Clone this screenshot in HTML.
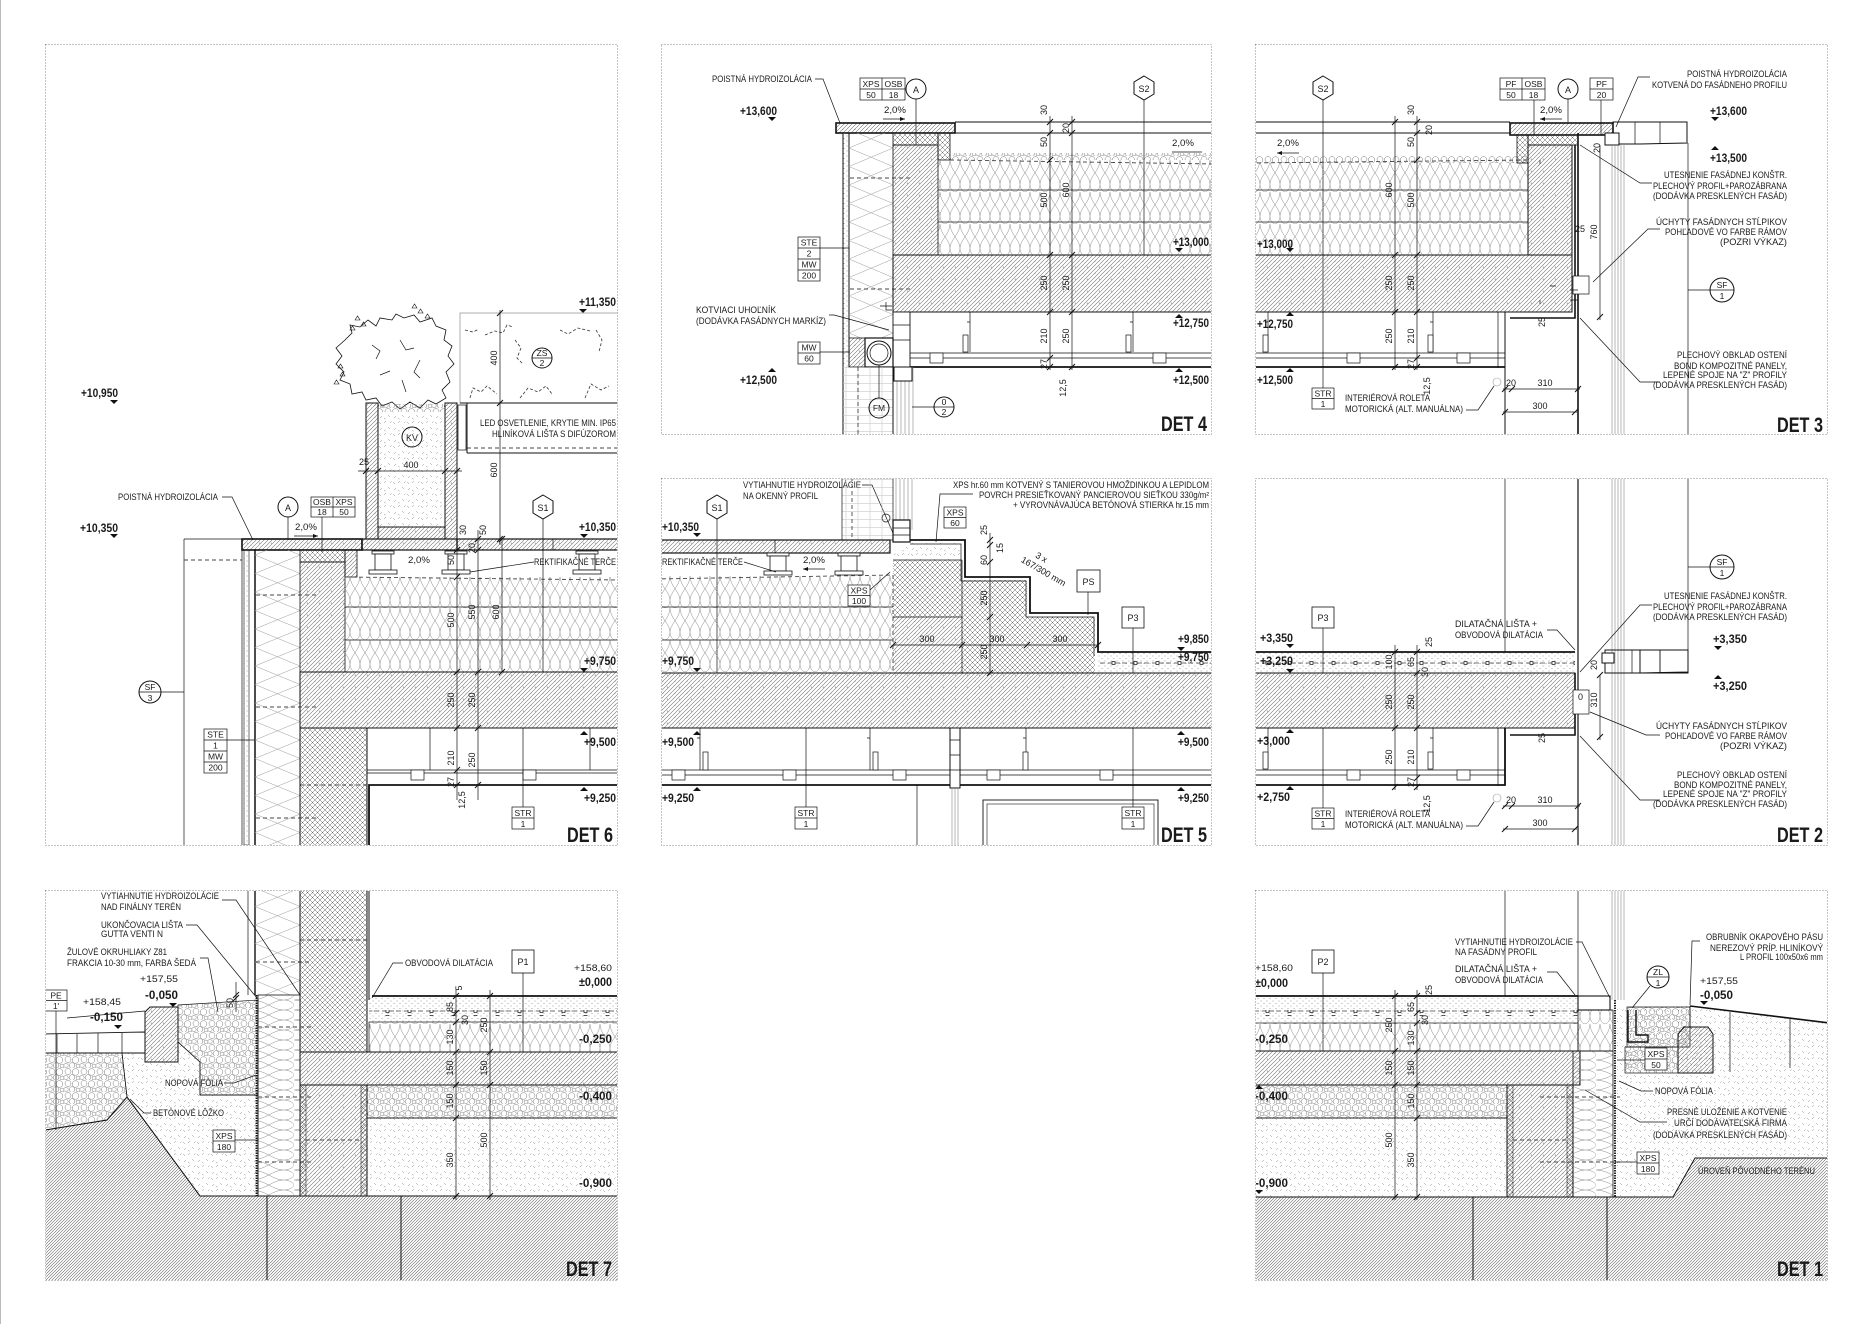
<!DOCTYPE html>
<html><head><meta charset="utf-8"><style>
html,body{margin:0;padding:0;background:#fff}
svg{display:block}
text{font-family:"Liberation Sans",Arial,sans-serif;fill:#1a1a1a}
.s{font-size:9px}
.t{font-size:8.5px}
.b{font-size:11.5px;font-weight:bold}
.n{font-size:9px}
.D{font-size:21px;font-weight:bold}
.fr{fill:none;stroke:#8a8a8a;stroke-width:1;stroke-dasharray:1 2}
.k{fill:none;stroke:#111;stroke-width:1}
.k2{fill:none;stroke:#111;stroke-width:1.8}
.kt{fill:none;stroke:#111;stroke-width:.7}
.g{fill:none;stroke:#888;stroke-width:.6}
.dsh{fill:none;stroke:#444;stroke-width:.9;stroke-dasharray:4 3}
.m{fill:#111}
</style></head><body>
<svg width="1872" height="1324" viewBox="0 0 1872 1324" xmlns="http://www.w3.org/2000/svg">
<defs>
<clipPath id="c6"><rect x="46" y="45" width="571" height="800"/></clipPath>
<clipPath id="c4"><rect x="662" y="45" width="549" height="389"/></clipPath>
<clipPath id="c3"><rect x="1256" y="45" width="571" height="389"/></clipPath>
<clipPath id="c5"><rect x="662" y="479" width="549" height="366"/></clipPath>
<clipPath id="c2"><rect x="1256" y="479" width="571" height="366"/></clipPath>
<clipPath id="c7"><rect x="46" y="891" width="571" height="389"/></clipPath>
<clipPath id="c1"><rect x="1256" y="891" width="571" height="389"/></clipPath>
<pattern id="con" width="12" height="12" patternUnits="userSpaceOnUse"><path d="M0,4L4,0M0,8L8,0M0,12L12,0M4,12L12,4M8,12L12,8M-1,1L1,-1M11,13L13,11" stroke="#777" stroke-width=".55"/><path d="M2,9.5l1.6,-.6M7,2.5l.6,1.6" stroke="#666" stroke-width=".5"/></pattern>
<pattern id="gh" width="9" height="9" patternUnits="userSpaceOnUse"><path d="M0,3L3,0M0,6L6,0M0,9L9,0M3,9L9,3M6,9L9,6" stroke="#666" stroke-width=".55"/></pattern>
<pattern id="sd" width="14" height="12" patternUnits="userSpaceOnUse"><path d="M1,2l2,2M8,1l-2,2M10,7l2,2M4,8l-2,2M6,10l1.6,1.2M12,3l1.5,-1.5" stroke="#888" stroke-width=".5"/></pattern>
<pattern id="x" width="5" height="5" patternUnits="userSpaceOnUse"><path d="M0,5L5,0M0,0L5,5" stroke="#666" stroke-width=".5"/></pattern>
<pattern id="ins" width="10" height="32" patternUnits="userSpaceOnUse"><path d="M0,0C0,10 10,16 10,24C10,30 6,32 5,32C4,32 0,30 0,24C0,16 10,10 10,0" fill="none" stroke="#888" stroke-width=".5"/></pattern>
<pattern id="insv" width="42" height="10" patternUnits="userSpaceOnUse"><path d="M0,0C13,0 21,10 31,10C39,10 42,6 42,5C42,4 39,0 31,0C21,0 13,10 0,10" fill="none" stroke="#888" stroke-width=".5"/></pattern>
<pattern id="gr" width="16" height="12" patternUnits="userSpaceOnUse"><g fill="none" stroke="#777" stroke-width=".5"><circle cx="4" cy="3.5" r="3"/><circle cx="11.5" cy="4" r="3.3"/><circle cx="2" cy="9.5" r="2.2"/><circle cx="8" cy="9.5" r="2.8"/><circle cx="14" cy="10" r="2"/></g></pattern>
<pattern id="sc" width="6" height="5" patternUnits="userSpaceOnUse"><circle cx="1" cy="1" r=".5" fill="#888"/><circle cx="4" cy="3.5" r=".5" fill="#888"/></pattern>
<pattern id="mw1" width="45" height="37" patternUnits="userSpaceOnUse" patternTransform="translate(255,0)"><path d="M0,0L45,18.5L0,37M45,0L0,18.5L45,37" fill="none" stroke="#999" stroke-width=".5"/></pattern>
<pattern id="mw2" width="44" height="37" patternUnits="userSpaceOnUse" patternTransform="translate(849,0)"><path d="M0,0L44,18.5L0,37M44,0L0,18.5L44,37" fill="none" stroke="#999" stroke-width=".5"/></pattern>
<pattern id="reb" width="22" height="6" patternUnits="userSpaceOnUse"><path d="M0,3h5M8,3h4M15,3h5" stroke="#444" stroke-width=".7"/><rect x="12" y="1.5" width="3" height="3" fill="#fff" stroke="#111" stroke-width=".7"/></pattern>
<pattern id="brk" width="12" height="8" patternUnits="userSpaceOnUse"><path d="M0,7.5h12M6,0v7.5" stroke="#bbb" stroke-width=".5"/></pattern>
</defs>
<rect width="1872" height="1324" fill="#fff"/>
<line x1="0.5" y1="0" x2="0.5" y2="1324" stroke="#bbb"/>

<!-- FRAMES -->
<rect class="fr" x="45.5" y="44.5" width="572" height="801"/>
<rect class="fr" x="661.5" y="44.5" width="550" height="390"/>
<rect class="fr" x="1255.5" y="44.5" width="572" height="390"/>
<rect class="fr" x="661.5" y="478.5" width="550" height="367"/>
<rect class="fr" x="1255.5" y="478.5" width="572" height="367"/>
<rect class="fr" x="45.5" y="890.5" width="572" height="390"/>
<rect class="fr" x="1255.5" y="890.5" width="572" height="390"/>

<!-- ================= DET 6 ================= -->
<g clip-path="url(#c6)">
<text class="b" x="81" y="397" textLength="37" lengthAdjust="spacingAndGlyphs">+10,950</text>
<path class="m" d="M110,400h8l-4,4z"/>
<text class="b" x="579" y="306" textLength="37" lengthAdjust="spacingAndGlyphs">+11,350</text>
<path class="m" d="M579,309h8l-4,4z"/>
<!-- tree -->
<path d="M345,340L352,333L350,325L360,327L368,320L376,326L380,318L392,320L396,314L404,318L414,315L420,322L432,318L436,326L446,330L444,340L452,346L448,356L454,364L446,372L450,382L442,390L446,398L436,404L428,400L420,408L410,402L400,409L392,402L382,406L376,398L366,400L362,392L352,394L350,384L340,380L344,372L336,364L342,356L336,348Z" fill="none" stroke="#111" stroke-width=".8"/>
<path d="M372,345l8,6l-4,8M400,340l6,10l8,-2M420,360l-6,12l6,6M380,375l10,-4M402,380l4,12" fill="none" stroke="#111" stroke-width=".7"/>
<path d="M355,320l2.5,-4l2.5,4zM361,326l2.5,-4l2.5,4zM350,330l2.5,-4l2.5,4zM418,313l2.5,-4l2.5,4zM425,318l2.5,-4l2.5,4zM412,308l2.5,-4l2.5,4zM338,368l2.5,-4l2.5,4zM340,376l2.5,-4l2.5,4zM334,384l2.5,-4l2.5,4z" fill="none" stroke="#111" stroke-width=".6"/>
<!-- light box -->
<rect x="460" y="313" width="170" height="90" fill="none" stroke="#999" stroke-width=".8"/>
<path d="M465,330l8,2l6,-3M485,335l10,-4l8,2l4,-8l6,2M470,398l3,-10l8,4l6,-6l10,8M520,398l8,-10l10,4l8,-6l6,8M560,330l8,4l10,-6l12,3M585,398l6,-14l10,6l8,-4M515,340l6,8l-4,10l6,6M596,330l6,10l-3,12" fill="none" stroke="#333" stroke-width=".8" stroke-dasharray="3 2"/>
<circle cx="542" cy="358" r="10" class="k"/><line x1="532" y1="358" x2="552" y2="358" class="kt"/>
<text class="t" x="542" y="356" text-anchor="middle">ZS</text><text class="t" x="542" y="366" text-anchor="middle">2</text>
<line x1="460" y1="403" x2="617" y2="403" class="k"/>
<line x1="467" y1="453" x2="617" y2="453" class="k"/>
<line x1="467" y1="448" x2="617" y2="448" class="dsh"/>
<line x1="467" y1="403" x2="467" y2="453" class="k"/>
<rect x="458" y="405" width="8" height="45" fill="none" stroke="#111" stroke-width=".7"/>
<text class="s" x="616" y="426" text-anchor="end" textLength="136" lengthAdjust="spacingAndGlyphs">LED OSVETLENIE, KRYTIE MIN. IP65</text>
<text class="s" x="616" y="437" text-anchor="end" textLength="124" lengthAdjust="spacingAndGlyphs">HLINÍKOVÁ LIŠTA S DIFÚZOROM</text>
<!-- dim 400/600 -->
<line x1="500" y1="310" x2="500" y2="545" class="kt"/>
<path class="k" d="M497,316l6,-6M497,406l6,-6M497,542l6,-6"/>
<text class="n" transform="translate(497,358) rotate(-90)" text-anchor="middle">400</text>
<text class="n" transform="translate(497,470) rotate(-90)" text-anchor="middle">600</text>
<!-- planter -->
<rect x="366" y="403" width="12" height="136" fill="url(#con)" stroke="#111"/>
<rect x="445" y="403" width="12" height="136" fill="url(#con)" stroke="#111"/>
<rect x="378" y="527" width="67" height="12" fill="url(#con)" stroke="#111"/>
<rect x="378" y="412" width="67" height="115" fill="url(#sd)"/>
<rect x="378" y="404" width="67" height="8" fill="url(#gr)"/>
<circle cx="412" cy="437" r="10" class="k"/><text class="s" x="412" y="441" text-anchor="middle">KV</text>
<line x1="358" y1="471" x2="462" y2="471" class="kt"/>
<path class="k" d="M363,474l6,-6M375,474l6,-6M442,474l6,-6M454,474l6,-6"/>
<text class="n" x="411" y="468" text-anchor="middle">400</text>
<text class="n" x="364" y="465" text-anchor="middle">25</text>
<!-- left -->
<text class="s" x="118" y="500" textLength="100" lengthAdjust="spacingAndGlyphs">POISTNÁ HYDROIZOLÁCIA</text>
<path class="kt" d="M222,497h10l21,43"/>
<text class="b" x="80" y="532" textLength="38" lengthAdjust="spacingAndGlyphs">+10,350</text>
<path class="m" d="M110,534h8l-4,4z"/>
<line x1="184" y1="539" x2="242" y2="539" class="kt"/>
<line x1="184" y1="539" x2="184" y2="845" class="kt"/>
<line x1="184" y1="560" x2="242" y2="560" class="dsh"/>
<circle cx="150" cy="692" r="11" class="k"/><line x1="139" y1="692" x2="161" y2="692" class="kt"/>
<text class="t" x="150" y="690" text-anchor="middle">SF</text><text class="t" x="150" y="701" text-anchor="middle">3</text>
<line x1="161" y1="692" x2="184" y2="692" class="kt"/>
<!-- STE table -->
<rect x="204" y="729" width="23" height="44" class="kt"/><path class="kt" d="M204,740h23M204,751h23M204,762h23"/>
<text class="t" x="215.5" y="737.5" text-anchor="middle">STE</text><text class="t" x="215.5" y="748.5" text-anchor="middle">1</text><text class="t" x="215.5" y="759.5" text-anchor="middle">MW</text><text class="t" x="215.5" y="770.5" text-anchor="middle">200</text>
<line x1="227" y1="740" x2="255" y2="740" class="kt"/>
<!-- wall -->
<rect x="242" y="539" width="120" height="11" fill="url(#con)" stroke="#111" stroke-width="1.6"/>
<line x1="242" y1="550" x2="242" y2="845" class="kt"/>
<rect x="244" y="550" width="5" height="295" fill="url(#sc)" stroke="#111" stroke-width=".6"/>
<line x1="255" y1="550" x2="255" y2="845" stroke="#111" stroke-width="1.5"/>
<rect x="255" y="550" width="45" height="295" fill="url(#mw1)"/>
<path class="dsh" d="M256,595h60M256,707h60M256,818h60"/>
<rect x="300" y="550" width="45" height="12" fill="url(#x)" stroke="#111" stroke-width=".8"/>
<rect x="300" y="562" width="45" height="110" fill="url(#con)" stroke="#111" stroke-width=".8"/>
<rect x="345" y="550" width="12" height="27" fill="url(#con)" stroke="#111" stroke-width=".8"/>
<rect x="345" y="577" width="275" height="95" fill="url(#ins)"/>
<path class="kt" d="M345,607H620M345,640H620"/>
<path class="dsh" d="M345,577L620,580M345,577V672"/>
<!-- deck -->
<rect x="457" y="539" width="165" height="11" fill="url(#con)" stroke="#111" stroke-width="1.2"/>
<rect x="362" y="539" width="95" height="11" fill="url(#con)" stroke="#111" stroke-width="1.2"/>
<g fill="#fff" stroke="#111" stroke-width=".8">
<rect x="372" y="551" width="22" height="3"/><rect x="375" y="554" width="16" height="16"/><rect x="369" y="570" width="28" height="4"/>
<rect x="445" y="551" width="22" height="3"/><rect x="448" y="554" width="16" height="16"/><rect x="442" y="570" width="28" height="4"/>
<rect x="576" y="551" width="22" height="3"/><rect x="579" y="554" width="16" height="16"/><rect x="573" y="570" width="28" height="4"/>
</g>
<line x1="553" y1="550" x2="553" y2="539" class="kt"/>
<text class="s" x="616" y="565" text-anchor="end" textLength="82" lengthAdjust="spacingAndGlyphs">REKTIFIKAČNÉ TERČE</text>
<path class="kt" d="M534,562L470,572"/>
<text class="s" x="408" y="563" textLength="22" lengthAdjust="spacingAndGlyphs">2,0%</text>
<text class="s" x="295" y="530" textLength="22" lengthAdjust="spacingAndGlyphs">2,0%</text>
<path class="kt" d="M294,536h24"/><path class="m" d="M318,536l-5,-2v4z"/>
<!-- A circle and table -->
<circle cx="288" cy="507" r="10" class="k"/><text class="s" x="288" y="511" text-anchor="middle">A</text>
<line x1="288" y1="517" x2="288" y2="539" class="kt"/>
<rect x="311" y="497" width="44" height="20" class="kt"/><path class="kt" d="M311,507h44M333,497v20"/>
<text class="t" x="322" y="505" text-anchor="middle">OSB</text><text class="t" x="344" y="505" text-anchor="middle">XPS</text>
<text class="t" x="322" y="515" text-anchor="middle">18</text><text class="t" x="344" y="515" text-anchor="middle">50</text>
<line x1="322" y1="517" x2="322" y2="552" class="kt"/>
<!-- S1 -->
<path class="k" d="M543,495L553,501V513L543,519L533,513V501Z"/><text class="s" x="543" y="511" text-anchor="middle">S1</text>
<line x1="543" y1="519" x2="543" y2="672" class="kt"/>
<!-- slab -->
<rect x="300" y="672" width="320" height="56" fill="url(#con)" stroke="#111"/>
<rect x="300" y="728" width="67" height="120" fill="url(#x)" stroke="#111"/>
<line x1="300" y1="785" x2="367" y2="785" class="dsh"/>
<path class="kt" d="M367,770H620M367,773H620"/>
<path class="k2" d="M369,845V785H620"/>
<g fill="#fff" stroke="#111" stroke-width=".7"><rect x="411" y="770" width="13" height="10"/><rect x="523" y="770" width="13" height="10"/></g>
<path class="kt" d="M430,728v42M590,728v42"/>
<!-- dims -->
<path class="kt" d="M457,530V800M478,530V800M502,539V672"/>
<path class="k" d="M454,553l6,-6M454,580l6,-6M454,675l6,-6M454,731l6,-6M454,773l6,-6M454,788l6,-6M475,542l6,-6M475,553l6,-6M475,675l6,-6M475,731l6,-6M475,788l6,-6M499,542l6,-6M499,675l6,-6"/>
<text class="n" transform="translate(466,530) rotate(-90)" text-anchor="middle">30</text>
<text class="n" transform="translate(486,530) rotate(-90)" text-anchor="middle">50</text>
<text class="n" transform="translate(454,560) rotate(-90)" text-anchor="middle">50</text>
<text class="n" transform="translate(475,548) rotate(-90)" text-anchor="middle">20</text>
<text class="n" transform="translate(454,620) rotate(-90)" text-anchor="middle">500</text>
<text class="n" transform="translate(475,612) rotate(-90)" text-anchor="middle">550</text>
<text class="n" transform="translate(499,612) rotate(-90)" text-anchor="middle">600</text>
<text class="n" transform="translate(454,700) rotate(-90)" text-anchor="middle">250</text>
<text class="n" transform="translate(475,700) rotate(-90)" text-anchor="middle">250</text>
<text class="n" transform="translate(454,758) rotate(-90)" text-anchor="middle">210</text>
<text class="n" transform="translate(475,760) rotate(-90)" text-anchor="middle">250</text>
<text class="n" transform="translate(454,782) rotate(-90)" text-anchor="middle">27</text>
<text class="n" transform="translate(465,800) rotate(-90)" text-anchor="middle">12,5</text>
<!-- levels -->
<text class="b" x="616" y="531" text-anchor="end" textLength="37" lengthAdjust="spacingAndGlyphs">+10,350</text>
<path class="m" d="M580,534h8l-4,4z"/>
<text class="b" x="616" y="665" text-anchor="end" textLength="32" lengthAdjust="spacingAndGlyphs">+9,750</text>
<path class="m" d="M580,668h8l-4,4z"/>
<path class="m" d="M580,735h8l-4,-4z"/>
<text class="b" x="616" y="746" text-anchor="end" textLength="32" lengthAdjust="spacingAndGlyphs">+9,500</text>
<path class="m" d="M580,791h8l-4,-4z"/>
<text class="b" x="616" y="802" text-anchor="end" textLength="32" lengthAdjust="spacingAndGlyphs">+9,250</text>
<line x1="523" y1="728" x2="523" y2="807" class="kt"/>
<rect x="512" y="807" width="22" height="22" class="kt"/><line x1="512" y1="818" x2="534" y2="818" class="kt"/>
<text class="t" x="523" y="816" text-anchor="middle">STR</text><text class="t" x="523" y="827" text-anchor="middle">1</text>
<text class="D" x="613" y="842" text-anchor="end" textLength="46" lengthAdjust="spacingAndGlyphs">DET 6</text>
</g>

<!-- ================= DET 4 ================= -->
<g clip-path="url(#c4)">
<text class="s" x="712" y="82" textLength="100" lengthAdjust="spacingAndGlyphs">POISTNÁ HYDROIZOLÁCIA</text>
<path class="kt" d="M815,79h8l17,44"/>
<rect x="860" y="78" width="45" height="22" class="kt"/><path class="kt" d="M860,89h45M882,78v22"/>
<text class="t" x="871" y="87" text-anchor="middle">XPS</text><text class="t" x="893.5" y="87" text-anchor="middle">OSB</text>
<text class="t" x="871" y="98" text-anchor="middle">50</text><text class="t" x="893.5" y="98" text-anchor="middle">18</text>
<circle cx="916" cy="89" r="10" class="k"/><text class="s" x="916" y="93" text-anchor="middle">A</text>
<line x1="916" y1="99" x2="916" y2="145" class="kt"/>
<text class="s" x="884" y="113" textLength="22" lengthAdjust="spacingAndGlyphs">2,0%</text>
<path class="kt" d="M883,119h22"/><path class="m" d="M905,119l-5,-2v4z"/>
<text class="b" x="740" y="115" textLength="37" lengthAdjust="spacingAndGlyphs">+13,600</text>
<path class="m" d="M768,117h8l-4,4z"/>
<rect x="836" y="123" width="119" height="10" fill="url(#con)" stroke="#111" stroke-width="1.6"/>
<path class="k" d="M955,122H1215M955,133H1215"/>
<!-- wall -->
<line x1="843" y1="133" x2="843" y2="434" class="k"/>
<rect x="843" y="133" width="6" height="234" fill="url(#sc)"/>
<line x1="849" y1="133" x2="849" y2="367" class="k"/>
<rect x="849" y="133" width="44" height="205" fill="url(#mw2)"/>
<path class="dsh" d="M850,178h60M850,289h60"/>
<rect x="893" y="133" width="45" height="12" fill="url(#x)" stroke="#111" stroke-width=".8"/>
<rect x="893" y="145" width="45" height="110" fill="url(#con)" stroke="#111" stroke-width=".8"/>
<rect x="938" y="133" width="12" height="27" fill="url(#x)" stroke="#111" stroke-width=".8"/>
<rect x="950" y="153" width="265" height="7" fill="url(#gr)"/>
<rect x="938" y="160" width="277" height="95" fill="url(#ins)"/>
<path class="kt" d="M938,190H1215M938,222H1215"/>
<path class="dsh" d="M950,160L1215,164M938,160V255"/>
<rect x="893" y="255" width="322" height="57" fill="url(#con)" stroke="#111"/>
<!-- ceiling -->
<path class="kt" d="M910,353H1215M910,358H1215"/>
<path class="k2" d="M893,367H1215"/>
<path class="kt" d="M970,312v40M967,322h3M1133,312v40M1130,322h3"/>
<g fill="#fff" stroke="#111" stroke-width=".7"><rect x="930" y="353" width="13" height="10"/><rect x="1153" y="353" width="13" height="10"/><rect x="963" y="335" width="5" height="17"/><rect x="1126" y="335" width="5" height="17"/></g>
<!-- window head -->
<rect x="893" y="312" width="17" height="55" fill="#fff" stroke="#111" stroke-width=".9"/>
<path class="kt" d="M893,325h17M893,340h17"/>
<rect x="849" y="338" width="16" height="29" fill="url(#con)" stroke="#111" stroke-width=".8"/>
<rect x="865" y="338" width="28" height="29" fill="#fff" stroke="#111" stroke-width="1.2"/>
<circle cx="879" cy="353" r="12" class="k"/><circle cx="879" cy="353" r="9" class="kt"/>
<path class="kt" d="M892,310l-6,0l0,-8M880,306h12"/>
<rect x="843" y="367" width="50" height="70" fill="url(#brk)"/>
<line x1="858" y1="367" x2="858" y2="434" class="dsh"/>
<line x1="893" y1="367" x2="893" y2="434" class="k"/>
<path class="g" d="M897,367V434M901,367V434M905,367V434M909,367V434M913,367V434"/>
<rect x="894" y="367" width="18" height="14" fill="#fff" stroke="#111"/>
<!-- tables -->
<rect x="798" y="237" width="22" height="44" class="kt"/><path class="kt" d="M798,248h22M798,259h22M798,270h22"/>
<text class="t" x="809" y="245.5" text-anchor="middle">STE</text><text class="t" x="809" y="256.5" text-anchor="middle">2</text><text class="t" x="809" y="267.5" text-anchor="middle">MW</text><text class="t" x="809" y="278.5" text-anchor="middle">200</text>
<line x1="820" y1="248" x2="849" y2="248" class="kt"/>
<text class="s" x="696" y="313" textLength="80" lengthAdjust="spacingAndGlyphs">KOTVIACI UHOĽNÍK</text>
<text class="s" x="696" y="324" textLength="130" lengthAdjust="spacingAndGlyphs">(DODÁVKA FASÁDNYCH MARKÍZ)</text>
<path class="kt" d="M829,315h5l55,15"/>
<rect x="798" y="342" width="22" height="22" class="kt"/><line x1="798" y1="353" x2="820" y2="353" class="kt"/>
<text class="t" x="809" y="350.5" text-anchor="middle">MW</text><text class="t" x="809" y="361.5" text-anchor="middle">60</text>
<line x1="820" y1="352" x2="850" y2="352" class="kt"/>
<path class="m" d="M768,372h8l-4,-4z"/>
<text class="b" x="740" y="384" textLength="37" lengthAdjust="spacingAndGlyphs">+12,500</text>
<line x1="879" y1="365" x2="879" y2="398" class="kt"/>
<circle cx="879" cy="408" r="10" class="k"/><text class="t" x="879" y="411" text-anchor="middle">FM</text>
<line x1="912" y1="407" x2="934" y2="407" class="kt"/>
<circle cx="944" cy="407" r="10" class="k"/><line x1="934" y1="407" x2="954" y2="407" class="kt"/>
<text class="t" x="944" y="405" text-anchor="middle">0</text><text class="t" x="944" y="415" text-anchor="middle">2</text>
<!-- dims -->
<path class="kt" d="M1050,116V370M1072,116V370"/>
<path class="k" d="M1047,125l6,-6M1047,136l6,-6M1047,163l6,-6M1047,258l6,-6M1047,315l6,-6M1047,361l6,-6M1047,370l6,-6M1069,125l6,-6M1069,136l6,-6M1069,258l6,-6M1069,315l6,-6M1069,370l6,-6"/>
<text class="n" transform="translate(1047,110) rotate(-90)" text-anchor="middle">30</text>
<text class="n" transform="translate(1047,142) rotate(-90)" text-anchor="middle">50</text>
<text class="n" transform="translate(1069,128) rotate(-90)" text-anchor="middle">20</text>
<text class="n" transform="translate(1047,200) rotate(-90)" text-anchor="middle">500</text>
<text class="n" transform="translate(1069,190) rotate(-90)" text-anchor="middle">600</text>
<text class="n" transform="translate(1047,283) rotate(-90)" text-anchor="middle">250</text>
<text class="n" transform="translate(1069,283) rotate(-90)" text-anchor="middle">250</text>
<text class="n" transform="translate(1047,336) rotate(-90)" text-anchor="middle">210</text>
<text class="n" transform="translate(1069,336) rotate(-90)" text-anchor="middle">250</text>
<text class="n" transform="translate(1047,364) rotate(-90)" text-anchor="middle">27</text>
<text class="n" transform="translate(1066,388) rotate(-90)" text-anchor="middle">12,5</text>
<path class="k" d="M1144,76L1154,82V94L1144,100L1134,94V82Z"/><text class="s" x="1144" y="92" text-anchor="middle">S2</text>
<line x1="1144" y1="100" x2="1144" y2="255" class="kt"/>
<text class="s" x="1172" y="146" textLength="22" lengthAdjust="spacingAndGlyphs">2,0%</text>
<path class="kt" d="M1172,152h30"/>
<text class="b" x="1209" y="246" text-anchor="end" textLength="36" lengthAdjust="spacingAndGlyphs">+13,000</text>
<path class="m" d="M1175,248h8l-4,4z"/>
<path class="m" d="M1175,318h8l-4,-4z"/>
<text class="b" x="1209" y="327" text-anchor="end" textLength="36" lengthAdjust="spacingAndGlyphs">+12,750</text>
<path class="m" d="M1175,372h8l-4,-4z"/>
<text class="b" x="1209" y="384" text-anchor="end" textLength="36" lengthAdjust="spacingAndGlyphs">+12,500</text>
<text class="D" x="1207" y="431" text-anchor="end" textLength="46" lengthAdjust="spacingAndGlyphs">DET 4</text>
</g>

<!-- ================= DET 3 ================= -->
<g clip-path="url(#c3)">
<path class="k" d="M1323,76L1333,82V94L1323,100L1313,94V82Z"/><text class="s" x="1323" y="92" text-anchor="middle">S2</text>
<line x1="1323" y1="100" x2="1323" y2="388" class="kt"/>
<rect x="1312" y="388" width="22" height="21" fill="#fff" stroke="#111" stroke-width=".7"/><line x1="1312" y1="398.5" x2="1334" y2="398.5" class="kt"/>
<text class="t" x="1323" y="396.5" text-anchor="middle">STR</text><text class="t" x="1323" y="407" text-anchor="middle">1</text>
<path class="k" d="M1250,122H1510M1250,133H1510"/>
<text class="s" x="1277" y="146" textLength="22" lengthAdjust="spacingAndGlyphs">2,0%</text>
<path class="kt" d="M1277,153h22"/><path class="m" d="M1277,153l5,-2v4z"/>
<rect x="1250" y="156" width="278" height="7" fill="url(#gr)"/>
<rect x="1250" y="163" width="278" height="92" fill="url(#ins)"/>
<path class="kt" d="M1250,190H1528M1250,222H1528"/>
<path class="dsh" d="M1250,163L1528,160M1528,160V255"/>
<text class="b" x="1257" y="248" textLength="36" lengthAdjust="spacingAndGlyphs">+13,000</text>
<path class="m" d="M1286,248h8l-4,4z"/>
<rect x="1250" y="255" width="322" height="57" fill="url(#con)" stroke="#111"/>
<rect x="1528" y="145" width="44" height="110" fill="url(#con)" stroke="#111"/>
<path class="kt" d="M1540,160v4M1540,300v4M1550,286h6"/>
<rect x="1510" y="123" width="103" height="12" fill="url(#con)" stroke="#111" stroke-width="1.6"/>
<rect x="1517" y="135" width="11" height="28" fill="url(#x)" stroke="#111" stroke-width=".8"/>
<rect x="1528" y="135" width="50" height="10" fill="url(#x)" stroke="#111" stroke-width=".8"/>
<rect x="1500" y="78" width="45" height="22" class="kt"/><path class="kt" d="M1500,89h45M1522,78v22"/>
<text class="t" x="1511" y="87" text-anchor="middle">PF</text><text class="t" x="1533.5" y="87" text-anchor="middle">OSB</text>
<text class="t" x="1511" y="98" text-anchor="middle">50</text><text class="t" x="1533.5" y="98" text-anchor="middle">18</text>
<line x1="1534" y1="100" x2="1534" y2="135" class="kt"/>
<circle cx="1568" cy="89" r="10" class="k"/><text class="s" x="1568" y="93" text-anchor="middle">A</text>
<line x1="1568" y1="99" x2="1568" y2="122" class="kt"/>
<rect x="1590" y="78" width="23" height="22" class="kt"/><line x1="1590" y1="89" x2="1613" y2="89" class="kt"/>
<text class="t" x="1601.5" y="87" text-anchor="middle">PF</text><text class="t" x="1601.5" y="98" text-anchor="middle">20</text>
<line x1="1601" y1="100" x2="1601" y2="135" class="kt"/>
<text class="s" x="1540" y="113" textLength="22" lengthAdjust="spacingAndGlyphs">2,0%</text>
<path class="kt" d="M1540,119h22"/><path class="m" d="M1540,119l5,-2v4z"/>
<!-- window frame -->
<path class="k" d="M1613,122H1687V143L1640,144H1613Z"/>
<path class="kt" d="M1635,122v22M1660,122v22"/>
<rect x="1605" y="133" width="14" height="12" fill="#fff" stroke="#111"/>
<path class="g" d="M1612,145V434M1615,145V434M1618,145V434M1621,145V434M1624,145V434"/>
<path stroke="#111" stroke-width="1.6" fill="none" d="M1578,133V434M1575,145V318H1510"/>
<line x1="1505" y1="312" x2="1505" y2="434" class="k"/>
<line x1="1688" y1="143" x2="1688" y2="434" class="kt"/>
<rect x="1573" y="276" width="16" height="18" fill="#fff" stroke="#111" stroke-width=".7"/>
<path class="kt" d="M1578,300h-8M1578,290h-8"/>
<circle cx="1722" cy="290" r="12" class="k"/><line x1="1710" y1="290" x2="1734" y2="290" class="kt"/>
<text class="t" x="1722" y="288" text-anchor="middle">SF</text><text class="t" x="1722" y="299" text-anchor="middle">1</text>
<line x1="1688" y1="290" x2="1710" y2="290" class="kt"/>
<!-- ceiling -->
<path class="kt" d="M1250,353H1505M1250,358H1505M1498,312V368"/>
<path class="k2" d="M1250,367H1505"/>
<path class="kt" d="M1268,312v40M1265,322h3M1433,312v40M1430,322h3"/>
<g fill="#fff" stroke="#111" stroke-width=".7"><rect x="1347" y="353" width="13" height="10"/><rect x="1457" y="353" width="13" height="10"/><rect x="1263" y="335" width="5" height="17"/><rect x="1428" y="335" width="5" height="17"/></g>
<path class="m" d="M1286,316h8l-4,-4z"/>
<text class="b" x="1257" y="328" textLength="36" lengthAdjust="spacingAndGlyphs">+12,750</text>
<path class="m" d="M1286,372h8l-4,-4z"/>
<text class="b" x="1257" y="384" textLength="36" lengthAdjust="spacingAndGlyphs">+12,500</text>
<!-- dims -->
<path class="kt" d="M1395,116V370M1417,116V370"/>
<path class="k" d="M1392,125l6,-6M1392,258l6,-6M1392,315l6,-6M1392,370l6,-6M1414,125l6,-6M1414,136l6,-6M1414,163l6,-6M1414,258l6,-6M1414,315l6,-6M1414,361l6,-6M1414,370l6,-6"/>
<text class="n" transform="translate(1414,110) rotate(-90)" text-anchor="middle">30</text>
<text class="n" transform="translate(1414,142) rotate(-90)" text-anchor="middle">50</text>
<text class="n" transform="translate(1432,130) rotate(-90)" text-anchor="middle">20</text>
<text class="n" transform="translate(1392,190) rotate(-90)" text-anchor="middle">600</text>
<text class="n" transform="translate(1414,200) rotate(-90)" text-anchor="middle">500</text>
<text class="n" transform="translate(1392,283) rotate(-90)" text-anchor="middle">250</text>
<text class="n" transform="translate(1414,283) rotate(-90)" text-anchor="middle">250</text>
<text class="n" transform="translate(1392,336) rotate(-90)" text-anchor="middle">250</text>
<text class="n" transform="translate(1414,336) rotate(-90)" text-anchor="middle">210</text>
<text class="n" transform="translate(1414,364) rotate(-90)" text-anchor="middle">27</text>
<text class="n" transform="translate(1430,386) rotate(-90)" text-anchor="middle">12,5</text>
<path class="kt" d="M1600,145V320"/>
<path class="k" d="M1597,320l6,-6"/>
<text class="n" transform="translate(1597,232) rotate(-90)" text-anchor="middle">760</text>
<text class="n" x="1575" y="232">25</text>
<text class="n" transform="translate(1545,322) rotate(-90)" text-anchor="middle">25</text>
<text class="n" transform="translate(1600,148) rotate(-90)" text-anchor="middle">20</text>
<path class="kt" d="M1503,389H1580M1503,412H1577"/>
<path class="k" d="M1502,392l6,-6M1509,392l6,-6M1575,392l6,-6M1502,415l6,-6M1572,415l6,-6"/>
<text class="n" x="1511" y="386" text-anchor="middle">20</text>
<text class="n" x="1545" y="386" text-anchor="middle">310</text>
<text class="n" x="1540" y="409" text-anchor="middle">300</text>
<circle cx="1497" cy="382" r="4" fill="none" stroke="#999" stroke-width=".6"/>
<text class="s" x="1345" y="401" textLength="85" lengthAdjust="spacingAndGlyphs">INTERIÉROVÁ ROLETA</text>
<text class="s" x="1345" y="412" textLength="118" lengthAdjust="spacingAndGlyphs">MOTORICKÁ (ALT. MANUÁLNA)</text>
<path class="kt" d="M1466,410h12l16,-24"/>
<!-- right labels -->
<text class="s" x="1787" y="77" text-anchor="end" textLength="100" lengthAdjust="spacingAndGlyphs">POISTNÁ HYDROIZOLÁCIA</text>
<text class="s" x="1787" y="88" text-anchor="end" textLength="135" lengthAdjust="spacingAndGlyphs">KOTVENÁ DO FASÁDNEHO PROFILU</text>
<path class="kt" d="M1650,77h-12l-22,50"/>
<text class="b" x="1710" y="115" textLength="37" lengthAdjust="spacingAndGlyphs">+13,600</text>
<path class="m" d="M1711,117h8l-4,4z"/>
<path class="m" d="M1711,150h8l-4,-4z"/>
<text class="b" x="1710" y="162" textLength="37" lengthAdjust="spacingAndGlyphs">+13,500</text>
<text class="s" x="1787" y="178" text-anchor="end" textLength="123" lengthAdjust="spacingAndGlyphs">UTESNENIE FASÁDNEJ KONŠTR.</text>
<text class="s" x="1787" y="189" text-anchor="end" textLength="134" lengthAdjust="spacingAndGlyphs">PLECHOVÝ PROFIL+PAROZÁBRANA</text>
<text class="s" x="1787" y="199" text-anchor="end" textLength="134" lengthAdjust="spacingAndGlyphs">(DODÁVKA PRESKLENÝCH FASÁD)</text>
<path class="kt" d="M1652,183h-12l-60,-38"/>
<text class="s" x="1787" y="225" text-anchor="end" textLength="131" lengthAdjust="spacingAndGlyphs">ÚCHYTY FASÁDNYCH STĹPIKOV</text>
<text class="s" x="1787" y="235" text-anchor="end" textLength="122" lengthAdjust="spacingAndGlyphs">POHĽADOVÉ VO FARBE RÁMOV</text>
<text class="s" x="1787" y="245" text-anchor="end" textLength="67" lengthAdjust="spacingAndGlyphs">(POZRI VÝKAZ)</text>
<path class="kt" d="M1660,229h-12l-55,53"/>
<text class="s" x="1787" y="358" text-anchor="end" textLength="110" lengthAdjust="spacingAndGlyphs">PLECHOVÝ OBKLAD OSTENÍ</text>
<text class="s" x="1787" y="369" text-anchor="end" textLength="113" lengthAdjust="spacingAndGlyphs">BOND KOMPOZITNÉ PANELY,</text>
<text class="s" x="1787" y="378" text-anchor="end" textLength="124" lengthAdjust="spacingAndGlyphs">LEPENÉ SPOJE NA "Z" PROFILY</text>
<text class="s" x="1787" y="388" text-anchor="end" textLength="134" lengthAdjust="spacingAndGlyphs">(DODÁVKA PRESKLENÝCH FASÁD)</text>
<path class="kt" d="M1660,382h-20l-60,-64"/>
<text class="D" x="1823" y="432" text-anchor="end" textLength="46" lengthAdjust="spacingAndGlyphs">DET 3</text>
</g>

<!-- ================= DET 5 ================= -->
<g clip-path="url(#c5)">
<text class="s" x="743" y="488" textLength="118" lengthAdjust="spacingAndGlyphs">VYTIAHNUTIE HYDROIZOLÁCIE</text>
<text class="s" x="743" y="499" textLength="75" lengthAdjust="spacingAndGlyphs">NA OKENNÝ PROFIL</text>
<path class="kt" d="M862,485h10l21,48"/>
<!-- window wall above -->
<rect x="842" y="477" width="51" height="63" fill="url(#brk)" stroke="#111" stroke-width=".7"/>
<line x1="852" y1="477" x2="852" y2="540" class="dsh"/>
<path class="g" d="M896,477V530M900,477V530M904,477V530M908,477V530M912,477V530"/>
<rect x="893" y="520" width="17" height="22" fill="#fff" stroke="#111" stroke-width="1.2"/>
<path class="kt" d="M893,528h17M893,535h17"/>
<circle cx="886" cy="518" r="4" class="kt"/>
<path class="k" d="M717,495L727,501V513L717,519L707,513V501Z"/><text class="s" x="717" y="511" text-anchor="middle">S1</text>
<line x1="717" y1="519" x2="717" y2="673" class="kt"/>
<text class="b" x="662" y="531" textLength="37" lengthAdjust="spacingAndGlyphs">+10,350</text>
<path class="m" d="M693,533h8l-4,4z"/>
<rect x="655" y="540" width="235" height="13" fill="url(#con)" stroke="#111" stroke-width="1.2"/>
<line x1="775" y1="540" x2="775" y2="553" class="kt"/>
<g fill="#fff" stroke="#111" stroke-width=".8">
<rect x="767" y="553" width="22" height="3"/><rect x="770" y="556" width="16" height="15"/><rect x="764" y="571" width="28" height="4"/>
<rect x="838" y="553" width="22" height="3"/><rect x="841" y="556" width="16" height="15"/><rect x="835" y="571" width="28" height="4"/>
</g>
<text class="s" x="662" y="565" textLength="81" lengthAdjust="spacingAndGlyphs">REKTIFIKAČNÉ TERČE</text>
<path class="kt" d="M744,562L776,572"/>
<text class="s" x="803" y="563" textLength="22" lengthAdjust="spacingAndGlyphs">2,0%</text>
<path class="kt" d="M803,569h22"/><path class="m" d="M803,569l5,-2v4z"/>
<rect x="655" y="576" width="238" height="97" fill="url(#ins)"/>
<path class="kt" d="M655,607H893M655,640H893"/>
<path class="dsh" d="M655,579L893,575M893,575V673"/>
<rect x="848" y="585" width="22" height="21" fill="#fff" stroke="#111" stroke-width=".7"/><line x1="848" y1="595.5" x2="870" y2="595.5" class="kt"/>
<text class="t" x="859" y="593.5" text-anchor="middle">XPS</text><text class="t" x="859" y="604" text-anchor="middle">100</text>
<path class="kt" d="M870,590l20,-18"/>
<text class="b" x="662" y="665" textLength="32" lengthAdjust="spacingAndGlyphs">+9,750</text>
<path class="m" d="M693,668h8l-4,4z"/>
<!-- steps -->
<path d="M893,560H962V617H893Z" fill="url(#x)"/>
<path d="M962,580H1027V617H1095V673H962Z" fill="url(#x)"/>
<path d="M893,617H962V673H893Z" fill="url(#con)"/>
<path d="M910,543H962V560H893V553Z" fill="url(#sd)"/>
<path class="kt" d="M893,560H962M893,617H962M962,560V673"/>
<path stroke="#111" stroke-width="1.8" fill="none" d="M910,540H965V577H1030V613H1098V652H1215"/>
<path class="kt" d="M910,544H961V581H1026V617H1094V656"/>
<rect x="944" y="507" width="22" height="21" fill="#fff" stroke="#111" stroke-width=".7"/><line x1="944" y1="517.5" x2="966" y2="517.5" class="kt"/>
<text class="t" x="955" y="515.5" text-anchor="middle">XPS</text><text class="t" x="955" y="526" text-anchor="middle">60</text>
<path class="kt" d="M973,494H940L936,542"/>
<text class="s" x="1209" y="488" text-anchor="end" textLength="256" lengthAdjust="spacingAndGlyphs">XPS hr.60 mm KOTVENÝ S TANIEROVOU HMOŽDINKOU A LEPIDLOM</text>
<text class="s" x="1209" y="498" text-anchor="end" textLength="230" lengthAdjust="spacingAndGlyphs">POVRCH PRESIEŤKOVANÝ PANCIEROVOU SIEŤKOU 330g/m²</text>
<text class="s" x="1209" y="508" text-anchor="end" textLength="196" lengthAdjust="spacingAndGlyphs">+ VYROVNÁVAJÚCA BETÓNOVÁ STIERKA hr.15 mm</text>
<path class="kt" d="M990,533V675"/>
<path class="k" d="M987,543l6,-6M987,548l6,-6M987,565l6,-6M987,620l6,-6M987,676l6,-6"/>
<text class="n" transform="translate(987,530) rotate(-90)" text-anchor="middle">25</text>
<text class="n" transform="translate(987,560) rotate(-90)" text-anchor="middle">60</text>
<text class="n" transform="translate(1003,548) rotate(-90)" text-anchor="middle">15</text>
<text class="n" transform="translate(987,598) rotate(-90)" text-anchor="middle">250</text>
<text class="n" transform="translate(987,652) rotate(-90)" text-anchor="middle">250</text>
<path class="kt" d="M893,645H1098"/>
<path class="k" d="M890,648l6,-6M959,648l6,-6M1024,648l6,-6M1095,648l6,-6"/>
<text class="n" x="927" y="642" text-anchor="middle">300</text>
<text class="n" x="997" y="642" text-anchor="middle">300</text>
<text class="n" x="1060" y="642" text-anchor="middle">300</text>
<text class="s" transform="translate(1040,560) rotate(30)" text-anchor="middle">3 x</text>
<text class="s" transform="translate(1042,574) rotate(30)" text-anchor="middle">167/300 mm</text>
<rect x="1077" y="570" width="23" height="22" fill="#fff" stroke="#111" stroke-width=".8"/><text class="s" x="1088.5" y="585" text-anchor="middle">PS</text>
<line x1="1088" y1="592" x2="1088" y2="615" class="kt"/>
<rect x="1122" y="607" width="22" height="21" fill="#fff" stroke="#111" stroke-width=".8"/><text class="s" x="1133" y="621" text-anchor="middle">P3</text>
<line x1="1133" y1="628" x2="1133" y2="673" class="kt"/>
<rect x="1098" y="653" width="117" height="20" fill="url(#sc)"/>
<rect x="1098" y="660" width="117" height="6" fill="url(#reb)"/>
<text class="b" x="1209" y="643" text-anchor="end" textLength="31" lengthAdjust="spacingAndGlyphs">+9,850</text>
<path class="m" d="M1177,647h8l-4,4z"/>
<text class="b" x="1209" y="661" text-anchor="end" textLength="31" lengthAdjust="spacingAndGlyphs">+9,750</text>
<rect x="655" y="673" width="560" height="55" fill="url(#con)" stroke="#111"/>
<!-- ceiling -->
<path class="kt" d="M655,770H1215M655,775H1215"/>
<path class="k2" d="M655,785H1215"/>
<path class="kt" d="M700,728v42M870,728v42M1026,728v42M697,738h3M867,738h3M1023,738h3"/>
<g fill="#fff" stroke="#111" stroke-width=".7"><rect x="672" y="770" width="13" height="10"/><rect x="783" y="770" width="13" height="10"/><rect x="893" y="770" width="13" height="10"/><rect x="987" y="770" width="13" height="10"/><rect x="1100" y="770" width="13" height="10"/><rect x="703" y="752" width="5" height="18"/><rect x="873" y="752" width="5" height="18"/><rect x="1023" y="752" width="5" height="18"/></g>
<rect x="950" y="728" width="10" height="60" fill="#fff" stroke="#111" stroke-width="1"/>
<path class="kt" d="M950,740h10M950,755h10M950,770h10"/>
<path class="g" d="M952,788V845M955,788V845M958,788V845"/>
<line x1="917" y1="785" x2="917" y2="845" class="kt"/>
<rect x="983" y="800" width="175" height="50" fill="none" stroke="#111" stroke-width=".9"/>
<rect x="987" y="804" width="167" height="46" fill="none" stroke="#111" stroke-width=".6"/>
<path class="m" d="M693,735h8l-4,-4z"/>
<text class="b" x="662" y="746" textLength="32" lengthAdjust="spacingAndGlyphs">+9,500</text>
<path class="m" d="M693,791h8l-4,-4z"/>
<text class="b" x="662" y="802" textLength="32" lengthAdjust="spacingAndGlyphs">+9,250</text>
<text class="b" x="1209" y="746" text-anchor="end" textLength="31" lengthAdjust="spacingAndGlyphs">+9,500</text>
<text class="b" x="1209" y="802" text-anchor="end" textLength="31" lengthAdjust="spacingAndGlyphs">+9,250</text>
<path class="m" d="M1177,735h8l-4,-4zM1177,791h8l-4,-4z"/>
<line x1="806" y1="728" x2="806" y2="807" class="kt"/>
<rect x="795" y="807" width="22" height="22" fill="#fff" stroke="#111" stroke-width=".7"/><line x1="795" y1="818" x2="817" y2="818" class="kt"/>
<text class="t" x="806" y="816" text-anchor="middle">STR</text><text class="t" x="806" y="827" text-anchor="middle">1</text>
<line x1="1133" y1="728" x2="1133" y2="807" class="kt"/>
<rect x="1122" y="807" width="22" height="22" fill="#fff" stroke="#111" stroke-width=".7"/><line x1="1122" y1="818" x2="1144" y2="818" class="kt"/>
<text class="t" x="1133" y="816" text-anchor="middle">STR</text><text class="t" x="1133" y="827" text-anchor="middle">1</text>
<text class="D" x="1207" y="842" text-anchor="end" textLength="46" lengthAdjust="spacingAndGlyphs">DET 5</text>
</g>

<!-- ================= DET 2 ================= -->
<g clip-path="url(#c2)">
<path class="kt" d="M1505,478V652M1688,478V650"/>
<line x1="1578" y1="478" x2="1578" y2="845" stroke="#111" stroke-width="1.2"/>
<path class="g" d="M1612,478V845M1615,478V845M1618,478V845M1621,478V845M1624,478V845"/>
<circle cx="1722" cy="567" r="12" class="k"/><line x1="1710" y1="567" x2="1734" y2="567" class="kt"/>
<text class="t" x="1722" y="565" text-anchor="middle">SF</text><text class="t" x="1722" y="576" text-anchor="middle">1</text>
<line x1="1688" y1="567" x2="1710" y2="567" class="kt"/>
<rect x="1312" y="607" width="22" height="21" fill="#fff" stroke="#111" stroke-width=".8"/><text class="s" x="1323" y="621" text-anchor="middle">P3</text>
<line x1="1323" y1="628" x2="1323" y2="673" class="kt"/>
<rect x="1250" y="652" width="325" height="21" fill="url(#sc)"/>
<rect x="1250" y="660" width="325" height="6" fill="url(#reb)"/>
<line x1="1250" y1="652" x2="1575" y2="652" class="k2"/>
<rect x="1250" y="673" width="325" height="55" fill="url(#con)" stroke="#111"/>
<text class="b" x="1260" y="642" textLength="33" lengthAdjust="spacingAndGlyphs">+3,350</text>
<path class="m" d="M1286,644h8l-4,4z"/>
<text class="b" x="1260" y="665" textLength="33" lengthAdjust="spacingAndGlyphs">+3,250</text>
<path class="m" d="M1286,669h8l-4,4z"/>
<path class="m" d="M1286,733h8l-4,-4z"/>
<text class="b" x="1257" y="745" textLength="33" lengthAdjust="spacingAndGlyphs">+3,000</text>
<path class="m" d="M1286,790h8l-4,-4z"/>
<text class="b" x="1257" y="801" textLength="33" lengthAdjust="spacingAndGlyphs">+2,750</text>
<path class="kt" d="M1250,770H1505M1250,775H1505M1498,728V786"/>
<path class="k2" d="M1250,785H1505V728"/>
<path class="kt" d="M1268,728v40M1265,738h3M1433,728v40M1430,738h3"/>
<g fill="#fff" stroke="#111" stroke-width=".7"><rect x="1347" y="770" width="13" height="10"/><rect x="1457" y="770" width="13" height="10"/><rect x="1263" y="752" width="5" height="17"/><rect x="1428" y="752" width="5" height="17"/></g>
<path class="kt" d="M1395,645V790M1417,645V790"/>
<path class="k" d="M1392,655l6,-6M1392,731l6,-6M1392,790l6,-6M1414,655l6,-6M1414,676l6,-6M1414,731l6,-6M1414,781l6,-6M1414,790l6,-6"/>
<text class="n" transform="translate(1392,662) rotate(-90)" text-anchor="middle">100</text>
<text class="n" transform="translate(1414,662) rotate(-90)" text-anchor="middle">65</text>
<text class="n" transform="translate(1432,642) rotate(-90)" text-anchor="middle">25</text>
<text class="n" transform="translate(1428,672) rotate(-90)" text-anchor="middle">30</text>
<text class="n" transform="translate(1392,702) rotate(-90)" text-anchor="middle">250</text>
<text class="n" transform="translate(1414,702) rotate(-90)" text-anchor="middle">250</text>
<text class="n" transform="translate(1392,757) rotate(-90)" text-anchor="middle">250</text>
<text class="n" transform="translate(1414,757) rotate(-90)" text-anchor="middle">210</text>
<text class="n" transform="translate(1414,782) rotate(-90)" text-anchor="middle">27</text>
<text class="n" transform="translate(1430,804) rotate(-90)" text-anchor="middle">12,5</text>
<text class="s" x="1455" y="627" textLength="82" lengthAdjust="spacingAndGlyphs">DILATAČNÁ LIŠTA +</text>
<text class="s" x="1455" y="638" textLength="88" lengthAdjust="spacingAndGlyphs">OBVODOVÁ DILATÁCIA</text>
<path class="kt" d="M1547,630h10l18,20"/>
<path class="k" d="M1605,650H1688V672L1640,673H1605Z"/>
<path class="kt" d="M1632,650v23M1660,650v23"/>
<rect x="1602" y="653" width="12" height="10" fill="#fff" stroke="#111"/>
<path stroke="#111" stroke-width="1.6" fill="none" d="M1575,673V735H1510"/>
<rect x="1573" y="690" width="16" height="24" fill="#fff" stroke="#111" stroke-width=".7"/>
<text class="n" x="1578" y="700">0</text>
<path class="kt" d="M1600,675V740"/>
<path class="k" d="M1597,678l6,-6M1597,740l6,-6"/>
<text class="n" transform="translate(1597,665) rotate(-90)" text-anchor="middle">20</text>
<text class="n" transform="translate(1597,700) rotate(-90)" text-anchor="middle">310</text>
<text class="n" transform="translate(1545,738) rotate(-90)" text-anchor="middle">25</text>
<path class="kt" d="M1503,806H1580M1503,829H1577"/>
<path class="k" d="M1502,809l6,-6M1509,809l6,-6M1575,809l6,-6M1502,832l6,-6M1572,832l6,-6"/>
<text class="n" x="1511" y="803" text-anchor="middle">20</text>
<text class="n" x="1545" y="803" text-anchor="middle">310</text>
<text class="n" x="1540" y="826" text-anchor="middle">300</text>
<circle cx="1497" cy="798" r="4" fill="none" stroke="#999" stroke-width=".6"/>
<text class="s" x="1345" y="817" textLength="85" lengthAdjust="spacingAndGlyphs">INTERIÉROVÁ ROLETA</text>
<text class="s" x="1345" y="828" textLength="118" lengthAdjust="spacingAndGlyphs">MOTORICKÁ (ALT. MANUÁLNA)</text>
<path class="kt" d="M1466,826h12l16,-24"/>
<line x1="1323" y1="728" x2="1323" y2="808" class="kt"/>
<rect x="1312" y="808" width="22" height="21" fill="#fff" stroke="#111" stroke-width=".7"/><line x1="1312" y1="818.5" x2="1334" y2="818.5" class="kt"/>
<text class="t" x="1323" y="816.5" text-anchor="middle">STR</text><text class="t" x="1323" y="827" text-anchor="middle">1</text>
<text class="s" x="1787" y="599" text-anchor="end" textLength="123" lengthAdjust="spacingAndGlyphs">UTESNENIE FASÁDNEJ KONŠTR.</text>
<text class="s" x="1787" y="610" text-anchor="end" textLength="134" lengthAdjust="spacingAndGlyphs">PLECHOVÝ PROFIL+PAROZÁBRANA</text>
<text class="s" x="1787" y="620" text-anchor="end" textLength="134" lengthAdjust="spacingAndGlyphs">(DODÁVKA PRESKLENÝCH FASÁD)</text>
<path class="kt" d="M1652,605h-12l-60,67"/>
<text class="b" x="1713" y="643" textLength="34" lengthAdjust="spacingAndGlyphs">+3,350</text>
<path class="m" d="M1714,646h8l-4,4z"/>
<path class="m" d="M1714,679h8l-4,-4z"/>
<text class="b" x="1713" y="690" textLength="34" lengthAdjust="spacingAndGlyphs">+3,250</text>
<path class="k" d="M1640,650H1688V673H1640Z"/><path class="kt" d="M1660,650v23"/>
<text class="s" x="1787" y="729" text-anchor="end" textLength="131" lengthAdjust="spacingAndGlyphs">ÚCHYTY FASÁDNYCH STĹPIKOV</text>
<text class="s" x="1787" y="739" text-anchor="end" textLength="122" lengthAdjust="spacingAndGlyphs">POHĽADOVÉ VO FARBE RÁMOV</text>
<text class="s" x="1787" y="749" text-anchor="end" textLength="67" lengthAdjust="spacingAndGlyphs">(POZRI VÝKAZ)</text>
<path class="kt" d="M1660,735h-14l-56,-23"/>
<text class="s" x="1787" y="778" text-anchor="end" textLength="110" lengthAdjust="spacingAndGlyphs">PLECHOVÝ OBKLAD OSTENÍ</text>
<text class="s" x="1787" y="788" text-anchor="end" textLength="113" lengthAdjust="spacingAndGlyphs">BOND KOMPOZITNÉ PANELY,</text>
<text class="s" x="1787" y="797" text-anchor="end" textLength="124" lengthAdjust="spacingAndGlyphs">LEPENÉ SPOJE NA "Z" PROFILY</text>
<text class="s" x="1787" y="807" text-anchor="end" textLength="134" lengthAdjust="spacingAndGlyphs">(DODÁVKA PRESKLENÝCH FASÁD)</text>
<path class="kt" d="M1660,800h-20l-60,-64"/>
<text class="D" x="1823" y="842" text-anchor="end" textLength="46" lengthAdjust="spacingAndGlyphs">DET 2</text>
</g>

<!-- ================= DET 7 ================= -->
<g clip-path="url(#c7)">
<path d="M45,1130L107,1120L127,1097L200,1196L620,1196V1282H45Z" fill="url(#gh)"/>
<path class="k" d="M45,1130L107,1120L127,1097L200,1196H620"/>
<path class="k" d="M267,1196V1282M401,1196V1282"/>
<path d="M122,1053H145V1062H178V1042L200,1062V1095H258V1196H200L127,1097Z" fill="url(#sd)" stroke="#111" stroke-width=".7"/>
<path d="M45,1053H122L127,1097L107,1120L45,1130Z" fill="url(#gr)" stroke="#111" stroke-width=".7"/>
<path d="M45,1034L145,1032V1053H45Z" fill="#fff" stroke="#111" stroke-width=".9"/>
<path class="kt" d="M57,1034v19M77,1034v19M98,1033v20M122,1033v20"/>
<path d="M145,1012L150,1007H178V1062H145Z" fill="url(#con)" stroke="#111"/>
<path d="M178,1005L258,1000V1095H200V1062L178,1042Z" fill="url(#gr)" stroke="#111" stroke-width=".7"/>
<line x1="56" y1="1011" x2="56" y2="1130" class="kt"/>
<rect x="45" y="990" width="22" height="21" fill="#fff" stroke="#111" stroke-width=".7"/><line x1="45" y1="1000.5" x2="67" y2="1000.5" class="kt"/>
<text class="t" x="56" y="998.5" text-anchor="middle">PE</text><text class="t" x="56" y="1009" text-anchor="middle">1'</text>
<path class="kt" d="M67,1018L145,1011"/>
<text class="s" x="140" y="982" textLength="38" lengthAdjust="spacingAndGlyphs">+157,55</text>
<text class="b" x="145" y="999" textLength="33" lengthAdjust="spacingAndGlyphs">-0,050</text>
<path class="m" d="M169,1003h8l-4,4z"/>
<text class="s" x="83" y="1005" textLength="38" lengthAdjust="spacingAndGlyphs">+158,45</text>
<text class="b" x="90" y="1021" textLength="33" lengthAdjust="spacingAndGlyphs">-0,150</text>
<path class="m" d="M114,1025h8l-4,4z"/>
<!-- wall -->
<path class="kt" d="M248,890V995"/>
<line x1="255" y1="890" x2="255" y2="995" stroke="#111" stroke-width="1.4"/>
<rect x="255" y="890" width="45" height="105" fill="url(#mw1)"/>
<path class="dsh" d="M256,962h55"/>
<rect x="300" y="885" width="67" height="167" fill="url(#x)" stroke="#111"/>
<line x1="300" y1="940" x2="367" y2="940" class="dsh"/>
<line x1="369" y1="885" x2="369" y2="1000" class="k"/>
<rect x="258" y="995" width="42" height="201" fill="url(#insv)" stroke="#111" stroke-width=".8"/>
<line x1="256.5" y1="995" x2="256.5" y2="1196" stroke="#111" stroke-width="1.8" stroke-dasharray="1.5 1"/>
<path class="dsh" d="M258,1027h55M258,1097h55M258,1162h55"/>
<!-- floor -->
<rect x="369" y="996" width="251" height="26" fill="url(#sc)"/>
<rect x="369" y="1010" width="251" height="6" fill="url(#reb)"/>
<line x1="372" y1="996" x2="620" y2="996" class="k2"/>
<rect x="369" y="1022" width="251" height="30" fill="url(#ins)" stroke="#111" stroke-width=".7"/>
<rect x="300" y="1052" width="320" height="33" fill="url(#con)" stroke="#111"/>
<rect x="367" y="1085" width="253" height="33" fill="url(#gr)" stroke="#111" stroke-width=".7"/>
<rect x="367" y="1118" width="253" height="78" fill="url(#sd)" stroke="#111" stroke-width=".7"/>
<rect x="300" y="1085" width="67" height="111" fill="url(#con)" stroke="#111"/>
<rect x="300" y="1085" width="6" height="111" fill="url(#x)" stroke="#111" stroke-width=".5"/>
<rect x="361" y="1085" width="6" height="111" fill="url(#x)" stroke="#111" stroke-width=".5"/>
<line x1="306" y1="1140" x2="361" y2="1140" class="dsh"/>
<!-- dims -->
<path class="kt" d="M456,990V1200M490,990V1200"/>
<path class="k" d="M453,999l6,-6M453,1016l6,-6M453,1025l6,-6M453,1055l6,-6M453,1088l6,-6M453,1121l6,-6M453,1199l6,-6M487,999l6,-6M487,1055l6,-6M487,1088l6,-6M487,1199l6,-6"/>
<text class="n" transform="translate(462,988) rotate(-90)" text-anchor="middle">5</text>
<text class="n" transform="translate(453,1007) rotate(-90)" text-anchor="middle">85</text>
<text class="n" transform="translate(468,1020) rotate(-90)" text-anchor="middle">30</text>
<text class="n" transform="translate(453,1037) rotate(-90)" text-anchor="middle">130</text>
<text class="n" transform="translate(487,1025) rotate(-90)" text-anchor="middle">250</text>
<text class="n" transform="translate(453,1068) rotate(-90)" text-anchor="middle">150</text>
<text class="n" transform="translate(487,1068) rotate(-90)" text-anchor="middle">150</text>
<text class="n" transform="translate(453,1101) rotate(-90)" text-anchor="middle">150</text>
<text class="n" transform="translate(453,1160) rotate(-90)" text-anchor="middle">350</text>
<text class="n" transform="translate(487,1140) rotate(-90)" text-anchor="middle">500</text>
<path class="kt" d="M236,982V1012"/><path class="k" d="M233,998l6,-6M233,1001l6,-6"/>
<text class="n" transform="translate(233,1003) rotate(-90)" text-anchor="middle">50</text>
<!-- labels -->
<text class="s" x="101" y="899" textLength="118" lengthAdjust="spacingAndGlyphs">VYTIAHNUTIE HYDROIZOLÁCIE</text>
<text class="s" x="101" y="910" textLength="80" lengthAdjust="spacingAndGlyphs">NAD FINÁLNY TERÉN</text>
<path class="kt" d="M222,900h14l64,95"/>
<text class="s" x="101" y="928" textLength="82" lengthAdjust="spacingAndGlyphs">UKONČOVACIA LIŠTA</text>
<text class="s" x="101" y="937" textLength="62" lengthAdjust="spacingAndGlyphs">GUTTA VENTI N</text>
<path class="kt" d="M186,925h11l60,73"/>
<text class="s" x="67" y="955" textLength="100" lengthAdjust="spacingAndGlyphs">ŽULOVÉ OKRUHLIAKY Z81</text>
<text class="s" x="67" y="966" textLength="129" lengthAdjust="spacingAndGlyphs">FRAKCIA 10-30 mm, FARBA ŠEDÁ</text>
<path class="kt" d="M200,958h8l10,54"/>
<text class="s" x="405" y="966" textLength="88" lengthAdjust="spacingAndGlyphs">OBVODOVÁ DILATÁCIA</text>
<path class="kt" d="M403,963h-10l-21,35"/>
<rect x="512" y="950" width="22" height="23" fill="#fff" stroke="#111" stroke-width=".8"/><text class="s" x="523" y="965" text-anchor="middle">P1</text>
<line x1="523" y1="973" x2="523" y2="1052" class="kt"/>
<text class="s" x="612" y="971" text-anchor="end" textLength="38" lengthAdjust="spacingAndGlyphs">+158,60</text>
<text class="b" x="612" y="986" text-anchor="end" textLength="33" lengthAdjust="spacingAndGlyphs">±0,000</text>
<text class="b" x="612" y="1043" text-anchor="end" textLength="33" lengthAdjust="spacingAndGlyphs">-0,250</text>
<text class="b" x="612" y="1100" text-anchor="end" textLength="33" lengthAdjust="spacingAndGlyphs">-0,400</text>
<text class="b" x="612" y="1187" text-anchor="end" textLength="33" lengthAdjust="spacingAndGlyphs">-0,900</text>
<rect x="213" y="1130" width="22" height="22" fill="#fff" stroke="#111" stroke-width=".7"/><line x1="213" y1="1141" x2="235" y2="1141" class="kt"/>
<text class="t" x="224" y="1139" text-anchor="middle">XPS</text><text class="t" x="224" y="1150" text-anchor="middle">180</text>
<line x1="235" y1="1140" x2="258" y2="1140" class="kt"/>
<text class="s" x="165" y="1086" textLength="58" lengthAdjust="spacingAndGlyphs">NOPOVÁ FÓLIA</text>
<path class="kt" d="M224,1083h10l22,-8"/>
<text class="s" x="153" y="1116" textLength="71" lengthAdjust="spacingAndGlyphs">BETÓNOVÉ LÔŽKO</text>
<path class="kt" d="M151,1113h-7l-14,-14"/>
<text class="D" x="612" y="1276" text-anchor="end" textLength="46" lengthAdjust="spacingAndGlyphs">DET 7</text>
</g>

<!-- ================= DET 1 ================= -->
<g clip-path="url(#c1)">
<path d="M1250,1197H1673L1695,1158H1830V1282H1250Z" fill="url(#gh)"/>
<path class="k" d="M1250,1197H1673L1695,1158H1830"/>
<path class="k" d="M1473,1197V1282M1607,1197V1282"/>
<path d="M1617,1008L1690,1006L1830,1023V1158H1695L1673,1197H1617Z" fill="url(#sd)"/>
<path d="M1627,1007H1690V1047H1627Z" fill="url(#gr)" stroke="#111" stroke-width=".7"/>
<rect x="1625" y="1047" width="53" height="26" fill="url(#gr)" stroke="#111" stroke-width=".7"/>
<path d="M1684,1027H1708L1713,1034V1073H1678V1034Z" fill="url(#con)" stroke="#111"/>
<path d="M1690,1006L1830,1023" stroke="#111" stroke-width="1.6"/>
<path class="kt" d="M1690,1006V1027"/>
<path d="M1628,1010V1042H1648V1035H1636V1010" fill="none" stroke="#111" stroke-width="1.4"/>
<path class="kt" d="M1730,1012v60M1790,1018v50"/>
<path class="kt" d="M1505,890V996M1578,890V996"/>
<path class="g" d="M1612,890V1000M1615,890V1000M1618,890V1000M1621,890V1000M1624,890V1000"/>
<text class="s" x="1255" y="971" textLength="38" lengthAdjust="spacingAndGlyphs">+158,60</text>
<text class="b" x="1255" y="987" textLength="33" lengthAdjust="spacingAndGlyphs">±0,000</text>
<rect x="1312" y="950" width="22" height="23" fill="#fff" stroke="#111" stroke-width=".8"/><text class="s" x="1323" y="965" text-anchor="middle">P2</text>
<line x1="1323" y1="973" x2="1323" y2="1051" class="kt"/>
<rect x="1250" y="996" width="328" height="27" fill="url(#sc)"/>
<rect x="1250" y="1010" width="328" height="6" fill="url(#reb)"/>
<line x1="1250" y1="996" x2="1578" y2="996" class="k2"/>
<rect x="1250" y="1023" width="328" height="28" fill="url(#ins)" stroke="#111" stroke-width=".7"/>
<line x1="1250" y1="1051" x2="1578" y2="1051" class="dsh"/>
<text class="b" x="1255" y="1043" textLength="33" lengthAdjust="spacingAndGlyphs">-0,250</text>
<rect x="1250" y="1051" width="330" height="34" fill="url(#con)" stroke="#111"/>
<rect x="1250" y="1085" width="257" height="33" fill="url(#gr)" stroke="#111" stroke-width=".7"/>
<rect x="1250" y="1118" width="257" height="79" fill="url(#sd)" stroke="#111" stroke-width=".7"/>
<path class="m" d="M1255,1089h8l-4,-4z"/>
<text class="b" x="1255" y="1100" textLength="33" lengthAdjust="spacingAndGlyphs">-0,400</text>
<text class="b" x="1255" y="1187" textLength="33" lengthAdjust="spacingAndGlyphs">-0,900</text>
<path class="m" d="M1255,1190h8l-4,4z"/>
<rect x="1507" y="1085" width="66" height="112" fill="url(#con)" stroke="#111"/>
<rect x="1507" y="1085" width="6" height="112" fill="url(#x)" stroke="#111" stroke-width=".5"/>
<rect x="1567" y="1085" width="6" height="112" fill="url(#x)" stroke="#111" stroke-width=".5"/>
<line x1="1513" y1="1140" x2="1567" y2="1140" class="dsh"/>
<rect x="1573" y="1051" width="40" height="146" fill="url(#insv)" stroke="#111" stroke-width=".8"/>
<rect x="1578" y="1010" width="35" height="41" fill="url(#ins)" stroke="#111" stroke-width=".8"/>
<rect x="1578" y="996" width="32" height="14" fill="#fff" stroke="#111" stroke-width="1.1"/>
<line x1="1615" y1="1000" x2="1615" y2="1197" stroke="#111" stroke-width="1.8" stroke-dasharray="1.5 1"/>
<path class="dsh" d="M1540,1097h80M1540,1162h80"/>
<path class="kt" d="M1395,990V1200M1417,990V1200"/>
<path class="k" d="M1392,999l6,-6M1392,1054l6,-6M1392,1088l6,-6M1392,1200l6,-6M1414,999l6,-6M1414,1016l6,-6M1414,1026l6,-6M1414,1054l6,-6M1414,1088l6,-6M1414,1121l6,-6M1414,1200l6,-6"/>
<text class="n" transform="translate(1432,990) rotate(-90)" text-anchor="middle">25</text>
<text class="n" transform="translate(1414,1007) rotate(-90)" text-anchor="middle">65</text>
<text class="n" transform="translate(1428,1020) rotate(-90)" text-anchor="middle">30</text>
<text class="n" transform="translate(1392,1025) rotate(-90)" text-anchor="middle">250</text>
<text class="n" transform="translate(1414,1038) rotate(-90)" text-anchor="middle">130</text>
<text class="n" transform="translate(1392,1068) rotate(-90)" text-anchor="middle">150</text>
<text class="n" transform="translate(1414,1068) rotate(-90)" text-anchor="middle">150</text>
<text class="n" transform="translate(1414,1101) rotate(-90)" text-anchor="middle">150</text>
<text class="n" transform="translate(1392,1140) rotate(-90)" text-anchor="middle">500</text>
<text class="n" transform="translate(1414,1160) rotate(-90)" text-anchor="middle">350</text>
<text class="s" x="1455" y="945" textLength="118" lengthAdjust="spacingAndGlyphs">VYTIAHNUTIE HYDROIZOLÁCIE</text>
<text class="s" x="1455" y="955" textLength="82" lengthAdjust="spacingAndGlyphs">NA FASÁDNY PROFIL</text>
<path class="kt" d="M1576,942h6l28,56"/>
<text class="s" x="1455" y="972" textLength="82" lengthAdjust="spacingAndGlyphs">DILATAČNÁ LIŠTA +</text>
<text class="s" x="1455" y="983" textLength="88" lengthAdjust="spacingAndGlyphs">OBVODOVÁ DILATÁCIA</text>
<path class="kt" d="M1547,972h10l18,23"/>
<circle cx="1658" cy="977" r="11" class="k"/><line x1="1647" y1="977" x2="1669" y2="977" class="kt"/>
<text class="t" x="1658" y="975" text-anchor="middle">ZL</text><text class="t" x="1658" y="986" text-anchor="middle">1</text>
<path class="kt" d="M1650,986L1632,1008"/>
<text class="s" x="1823" y="940" text-anchor="end" textLength="117" lengthAdjust="spacingAndGlyphs">OBRUBNÍK OKAPOVÉHO PÁSU</text>
<text class="s" x="1823" y="951" text-anchor="end" textLength="113" lengthAdjust="spacingAndGlyphs">NEREZOVÝ PRÍP. HLINÍKOVÝ</text>
<text class="s" x="1823" y="960" text-anchor="end" textLength="83" lengthAdjust="spacingAndGlyphs">L PROFIL 100x50x6 mm</text>
<path class="kt" d="M1700,941h-8l-2,64"/>
<text class="s" x="1700" y="984" textLength="38" lengthAdjust="spacingAndGlyphs">+157,55</text>
<text class="b" x="1700" y="999" textLength="33" lengthAdjust="spacingAndGlyphs">-0,050</text>
<path class="m" d="M1700,1001h8l-4,4z"/>
<rect x="1645" y="1048" width="22" height="22" fill="#fff" stroke="#111" stroke-width=".7"/><line x1="1645" y1="1059" x2="1667" y2="1059" class="kt"/>
<text class="t" x="1656" y="1057" text-anchor="middle">XPS</text><text class="t" x="1656" y="1068" text-anchor="middle">50</text>
<line x1="1617" y1="1060" x2="1645" y2="1060" class="kt"/>
<text class="s" x="1655" y="1094" textLength="58" lengthAdjust="spacingAndGlyphs">NOPOVÁ FÓLIA</text>
<path class="kt" d="M1653,1091h-12l-22,-10"/>
<text class="s" x="1787" y="1115" text-anchor="end" textLength="120" lengthAdjust="spacingAndGlyphs">PRESNÉ ULOŽENIE A KOTVENIE</text>
<text class="s" x="1787" y="1126" text-anchor="end" textLength="113" lengthAdjust="spacingAndGlyphs">URČÍ DODÁVATEĽSKÁ FIRMA</text>
<text class="s" x="1787" y="1138" text-anchor="end" textLength="134" lengthAdjust="spacingAndGlyphs">(DODÁVKA PRESKLENÝCH FASÁD)</text>
<path class="kt" d="M1667,1122h-27l-55,-32"/>
<rect x="1637" y="1152" width="22" height="22" fill="#fff" stroke="#111" stroke-width=".7"/><line x1="1637" y1="1163" x2="1659" y2="1163" class="kt"/>
<text class="t" x="1648" y="1161" text-anchor="middle">XPS</text><text class="t" x="1648" y="1172" text-anchor="middle">180</text>
<line x1="1615" y1="1162" x2="1637" y2="1162" class="kt"/>
<text class="s" x="1698" y="1174" textLength="117" lengthAdjust="spacingAndGlyphs">ÚROVEŇ PÔVODNÉHO TERÉNU</text>
<text class="D" x="1823" y="1276" text-anchor="end" textLength="46" lengthAdjust="spacingAndGlyphs">DET 1</text>
</g>
</svg>
</body></html>
